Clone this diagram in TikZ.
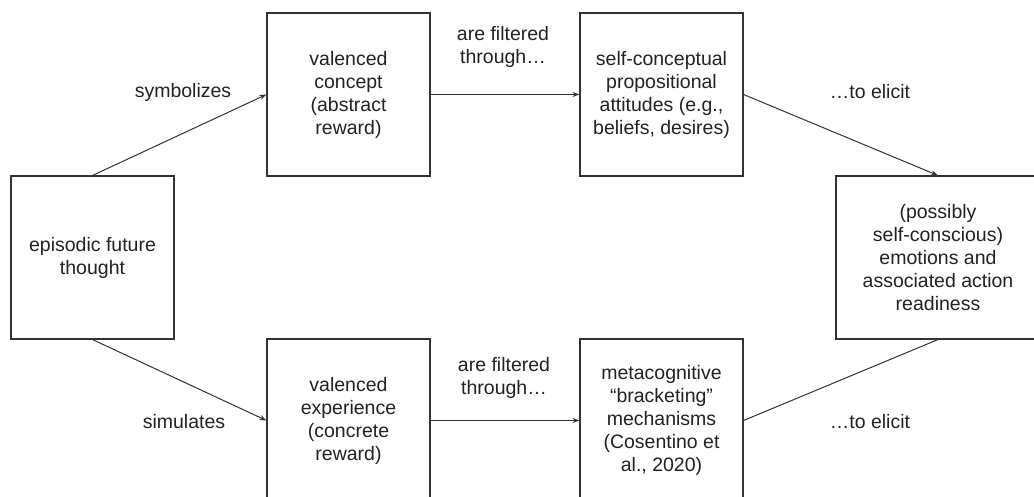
\documentclass[tikz,border=0pt]{standalone}
\usepackage{fontspec}
\setmainfont{Liberation Sans}
\usetikzlibrary{arrows.meta}
\definecolor{ink}{HTML}{222222}
\definecolor{edge}{HTML}{333333}
\begin{document}
\begin{tikzpicture}[x=1pt,y=-1pt,
  every node/.style={text=ink, font=\fontsize{19.5}{23}\selectfont},
  card/.style={draw=edge, line width=1.1pt, inner sep=0pt, align=center, minimum width=163pt, minimum height=163pt},
  link/.style={draw=edge, line width=1pt},
  flow/.style={link, -{Stealth[length=7pt,width=5pt]}},
  tag/.style={align=center, inner sep=0pt}]
\useasboundingbox (0,0) rectangle (1034,497);
\clip (0,0) rectangle (1034,497);
% boxes
\node[card] (A) at (92.5,257.5) {episodic future\\thought};
\node[card] (B) at (348.5,94.5) {valenced\\concept\\(abstract\\reward)};
\node[card] (C) at (661.5,94.5) {self-conceptual\\propositional\\attitudes (e.g.,\\beliefs, desires)};
\node[card, minimum width=204pt] (D) at (938,257.5) {(possibly\\self-conscious)\\emotions and\\associated action\\readiness};
\node[card] (E) at (348.5,420.5) {valenced\\experience\\(concrete\\reward)};
\node[card] (F) at (661.5,420.5) {metacognitive\\“bracketing”\\mechanisms\\(Cosentino et\\al., 2020)};
% connectors
\draw[flow] (A.north) -- (B.west);
\draw[flow] (B.east) -- (C.west);
\draw[flow] (C.east) -- (D.north);
\draw[flow] (A.south) -- (E.west);
\draw[flow] (E.east) -- (F.west);
\draw[link] (F.east) -- (D.south);
% labels
\node[tag] (l1) at (183,92) {symbolizes};
\node[tag] (l2) at (184,422) {simulates};
\node[tag] (l3) at (503,47) {are filtered\\through…};
\node[tag] (l4) at (504,378) {are filtered\\through…};
\node[tag] (l5) at (870,92) {…to elicit};
\node[tag] (l6) at (870,422) {…to elicit};
\end{tikzpicture}
\end{document}
